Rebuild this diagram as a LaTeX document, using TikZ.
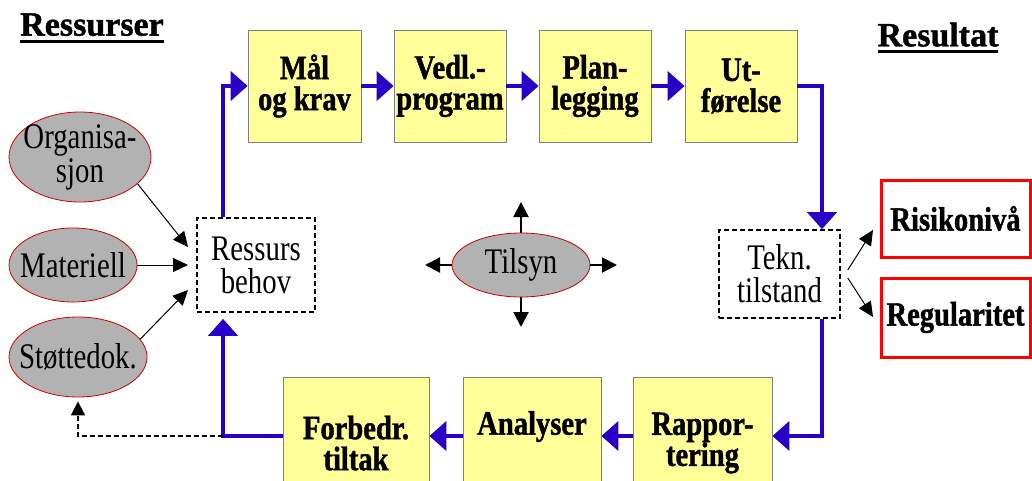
\documentclass[tikz,border=0pt]{standalone}
\usepackage{fontspec}
\setmainfont{Liberation Serif}
\newfontfamily\nfont[FakeStretch=0.8]{Liberation Serif}
\newfontfamily\bnfont[FakeStretch=0.84, BoldFeatures={FakeBold=1.2}]{Liberation Serif}
\newfontfamily\tfont[BoldFeatures={FakeBold=1.2}]{Liberation Serif}
\newcommand{\thickul}[1]{\setbox0\hbox{#1}\rlap{\rule[-3.5pt]{\wd0}{1.4pt}}\box0}
\usetikzlibrary{shapes.geometric, arrows.meta}
\definecolor{boxyellow}{RGB}{255,255,153}
\definecolor{flowblue}{RGB}{40,0,200}
\definecolor{ellgray}{RGB}{178,178,178}

\begin{document}
\begin{tikzpicture}[x=0.5pt, y=-0.5pt,
	yb/.style={draw=gray, fill=boxyellow, align=center, inner sep=0pt, font=\bnfont\bfseries\fontsize{17}{15.5}\selectfont},
	el/.style={ellipse, draw=red!80!black, fill=ellgray, align=center, inner sep=-30pt, font=\nfont\fontsize{18}{17}\selectfont},
	db/.style={draw, line width=0.8pt, dash pattern=on 2.5pt off 1.5pt, fill=white, align=center, inner sep=0pt, font=\nfont\fontsize{18}{16.5}\selectfont},
	rb/.style={draw=red, line width=1.5pt, fill=white, inner sep=0pt, minimum width=74.5pt, font=\bnfont\bfseries\fontsize{17}{15}\selectfont},
	tt/.style={font=\tfont\bfseries\fontsize{17}{18}\selectfont},
	bl/.style={draw=flowblue, line width=2.4pt, -{Triangle[length=8.5pt, width=14.5pt]}},
	ar/.style={line width=0.5pt, -{Triangle[length=7.5pt, width=7pt]}},
	ta/.style={line width=1pt, -{Triangle[length=7.5pt, width=7.5pt]}},
	ds/.style={line width=0.8pt, dash pattern=on 2.5pt off 1.5pt, -{Triangle[length=7pt, width=7pt]}}]
	\useasboundingbox (0,0) rectangle (1032,481);
	\clip (0,0) rectangle (1032,481);
	\node[tt] (tress) at (92,28) {\thickul{Ressurser}};
	\node[tt] (tresu) at (938,38) {\thickul{Resultat}};
	\node[yb, minimum width=56.5pt, minimum height=56pt] (maal) at (304.5,86) {Mål\\og krav};
	\node[yb, minimum width=56pt, minimum height=56pt] (vedl) at (450,86) {Vedl.-\\program};
	\node[yb, minimum width=56pt, minimum height=56pt] (plan) at (595,86) {Plan-\\legging};
	\node[yb, minimum width=56pt, minimum height=56pt] (utf) at (741,86) {Ut-\\førelse};
	\node[yb, minimum width=69.5pt, minimum height=66pt] (rapp) at (702.5,443) {Rappor-\\tering};
	\node[yb, minimum width=69pt, minimum height=66pt] (anal) at (532,443) {Analyser\\\strut};
	\node[yb, minimum width=73pt, minimum height=66pt] (forb) at (356,443) {Forbedr.\\tiltak};
	\node[db, minimum width=59pt, minimum height=47pt] (ress) at (256,265) {Ressurs\\behov};
	\node[db, minimum width=60.5pt, minimum height=44pt] (tekn) at (779.5,274) {Tekn.\\tilstand};
	\node[rb, minimum height=38.5pt] (risk) at (955.5,218.5) {Risikonivå};
	\node[rb, minimum height=39.5pt] (regu) at (955.5,317.5) {Regularitet};
	\node[el, minimum width=71pt, minimum height=45pt] (org) at (80,157) {Organisa-\\sjon};
	\node[el, minimum width=64pt, minimum height=37pt] (mat) at (73,265) {Materiell};
	\node[el, minimum width=69pt, minimum height=40pt] (stot) at (78,357) {Støttedok.};
	\node[el, minimum width=69pt, minimum height=32pt] (tils) at (521,265) {Tilsyn};
	\coordinate (jl) at (223,436);
	\coordinate (jr) at (822,436);
	\coordinate (dc) at (78,436);
	\coordinate (r1) at (188,247);
	\coordinate (r2) at (188,265);
	\coordinate (r3) at (188,290);
	\coordinate (k1) at (873,230);
	\coordinate (k2) at (873,317);
	\coordinate (tn) at (521,202);
	\coordinate (ts) at (521,327);
	\coordinate (tw) at (425,265);
	\coordinate (te) at (617,265);
	\draw[bl] (ress.north -| jl) |- (maal.west);
	\draw[bl] (maal.east) -- (vedl.west);
	\draw[bl] (vedl.east) -- (plan.west);
	\draw[bl] (plan.east) -- (utf.west);
	\draw[bl] (utf.east) -| (tekn.north -| jr);
	\draw[bl] (tekn.south -| jr) |- ([yshift=3.5pt]rapp.east);
	\draw[bl] ([yshift=3.5pt]rapp.west) -- ([yshift=3.5pt]anal.east);
	\draw[bl] ([yshift=3.5pt]anal.west) -- ([yshift=3.5pt]forb.east);
	\draw[bl] ([yshift=3.5pt]forb.west) -- (jl) -- ([yshift=-3pt]ress.south -| jl);
	\draw[ds] (jl) -- (dc) -- ([yshift=-2pt]stot.south);
	\draw[ar] (org.-25) -- (r1);
	\draw[ar] (mat.east) -- (r2);
	\draw[ar] (stot.16) -- (r3);
	\draw[ar] ([xshift=3.5pt, yshift=2pt]tekn.east) -- (k1);
	\draw[ar] ([xshift=3.5pt, yshift=-2pt]tekn.east) -- (k2);
	\draw[ta] (tils.north) -- (tn);
	\draw[ta] (tils.south) -- (ts);
	\draw[ta] (tils.west) -- (tw);
	\draw[ta] (tils.east) -- (te);
\end{tikzpicture}
\end{document}
